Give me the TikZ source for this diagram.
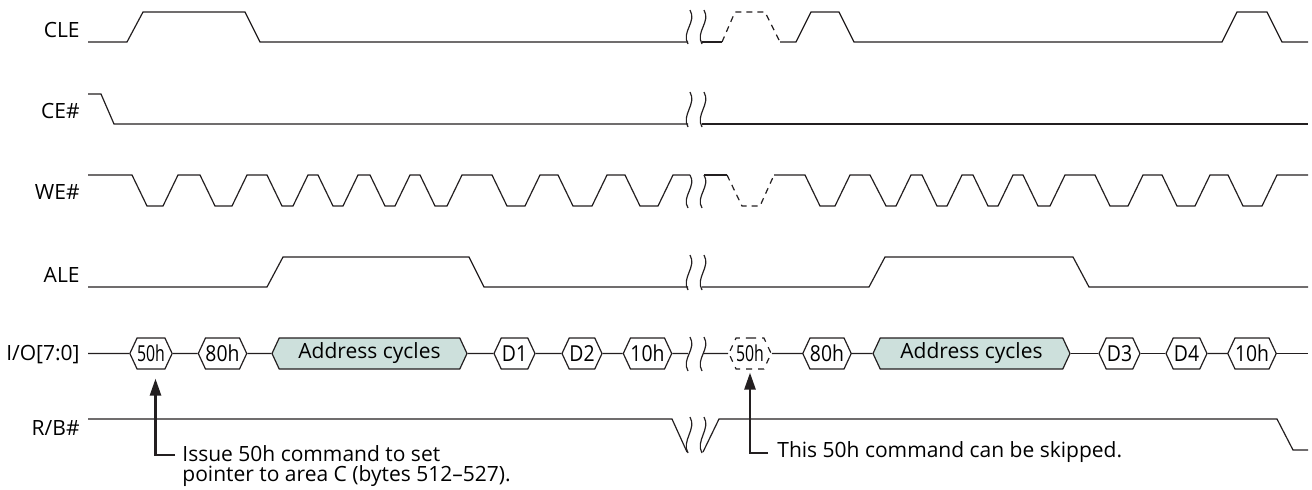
\documentclass[tikz,border=0pt]{standalone}
\usepackage{tikz, xcolor}
\usepackage{fontspec}
\setmainfont{Open Sans}
\newfontfamily\cellfont[FakeStretch=0.88]{Open Sans}
\newfontfamily\narrowfont[FakeStretch=0.72]{Open Sans}
\usetikzlibrary{shapes.symbols,arrows.meta}
\definecolor{addrfill}{RGB}{205,224,220}
\definecolor{wire}{RGB}{35,31,32}

\begin{document}
\begin{tikzpicture}[x=0.5pt, y=-0.5pt, font=\fontsize{10.5}{10}\selectfont]
\tikzstyle{sigline}=[draw=wire, line width=0.6pt]
\tikzstyle{skipline}=[sigline, dash pattern=on 3pt off 2.5pt]
\tikzstyle{breakline}=[draw=wire, line width=0.6pt]
\tikzstyle{sigcell}=[signal, signal to=east and west, signal pointer angle=130, draw=wire, line width=0.6pt, inner sep=0pt, minimum height=15.5pt, fill=white, font=\fontsize{11}{11}\cellfont]
\tikzstyle{addrcell}=[sigcell, fill=addrfill, font=\fontsize{10.5}{10.5}\selectfont]
\tikzstyle{siglabel}=[anchor=base east, inner sep=0pt]
\tikzstyle{notearrow}=[draw=wire, line width=1.3pt, -{Triangle[length=8.5pt,width=5.5pt]}]
\tikzstyle{notetext}=[anchor=base west, align=left, inner sep=0pt]

\useasboundingbox (0,0) rectangle (1312,489);

% signal names
\node[siglabel] (lCLE) at (80,37) {CLE};
\node[siglabel] (lCE) at (80,118) {CE\#};
\node[siglabel] (lWE) at (80,199) {WE\#};
\node[siglabel] (lALE) at (80,282) {ALE};
\node[siglabel] (lIO) at (80,360) {I/O[7:0]};
\node[siglabel] (lRB) at (80,435) {R/B\#};

% CLE
\draw[sigline] (88,42) -- (127,42) -- (143,12) -- (245,12) -- (260,42) -- (688,42);
\draw[breakline] (690,10) .. controls (697,22) and (681,32) .. (688,44);
\draw[breakline] (704,10) .. controls (711,22) and (695,32) .. (702,44);
\draw[sigline] (702,42) -- (722,42);
\draw[skipline] (722,42) -- (735,12) -- (765,12) -- (780,42);
\draw[sigline] (780,42) -- (796,42) -- (811,12) -- (839,12) -- (854,42) -- (1222,42) -- (1237,12) -- (1267,12) -- (1282,42) -- (1308,42);

% CE#
\draw[sigline] (88,94) -- (101,94) -- (114,124) -- (688,124);
\draw[breakline] (690,92) .. controls (697,104) and (681,115) .. (688,127);
\draw[breakline] (704,92) .. controls (711,104) and (695,115) .. (702,127);
\draw[sigline] (702,124) -- (1308,124);

% WE#
\draw[sigline] (88,175) -- (132,175) -- (147,206) -- (163,206) -- (178,175) -- (200,175) -- (215,206) -- (232,206) -- (247,175) -- (267,175) -- (282,206) -- (293,206) -- (308,175) -- (318,175) -- (333,206) -- (343,206) -- (358,175) -- (370,175) -- (385,206) -- (395,206) -- (410,175) -- (420,175) -- (435,206) -- (447,206) -- (462,175) -- (492,175) -- (507,206) -- (525,206) -- (540,175) -- (558,175) -- (573,206) -- (592,206) -- (607,175) -- (625,175) -- (640,206) -- (658,206) -- (673,175) -- (690,175);
\draw[breakline] (690,175) .. controls (697,186) and (681,197) .. (688,208);
\draw[breakline] (704,175) .. controls (711,186) and (695,197) .. (702,208);
\draw[sigline] (704,175) -- (727,175);
\draw[skipline] (727,175) -- (742,206) -- (760,206) -- (774,175);
\draw[sigline] (774,175) -- (805,175) -- (820,206) -- (835,206) -- (850,175) -- (870,175) -- (886,206) -- (896,206) -- (911,175) -- (922,175) -- (937,206) -- (947,206) -- (962,175) -- (973,175) -- (988,206) -- (998,206) -- (1013,175) -- (1023,175) -- (1038,206) -- (1050,206) -- (1065,175) -- (1095,175) -- (1110,206) -- (1128,206) -- (1143,175) -- (1162,175) -- (1177,206) -- (1195,206) -- (1210,175) -- (1228,175) -- (1243,206) -- (1262,206) -- (1277,175) -- (1308,175);

% ALE
\draw[sigline] (88,287) -- (267,287) -- (283,257) -- (469,257) -- (484,287) -- (688,287);
\draw[breakline] (690,255) .. controls (697,267) and (681,278) .. (688,290);
\draw[breakline] (704,255) .. controls (711,267) and (695,278) .. (702,290);
\draw[sigline] (702,287) -- (869,287) -- (885,257) -- (1073,257) -- (1089,287) -- (1308,287);

% I/O[7:0] bus cycles
\node[sigcell, minimum width=16pt, font=\fontsize{11}{11}\narrowfont] (IO50a) at (151,353.5) {50h};
\node[sigcell, minimum width=20.5pt] (IO80a) at (222.5,353.5) {80h};
\node[addrcell, minimum width=97.5pt] (ADDRa) at (369.5,353.5) {Address cycles};
\node[sigcell, minimum width=20.5pt] (D1) at (514.5,353.5) {D1};
\node[sigcell, minimum width=20pt] (D2) at (582,353.5) {D2};
\node[sigcell, minimum width=20.5pt] (IO10a) at (647.5,353.5) {10h};
\node[sigcell, dashed, minimum width=18pt, font=\fontsize{11}{11}\narrowfont] (IO50b) at (750,353.5) {50h};
\node[sigcell, minimum width=20pt] (IO80b) at (827,353.5) {80h};
\node[addrcell, minimum width=98.5pt] (ADDRb) at (971.5,353.5) {Address cycles};
\node[sigcell, minimum width=20.5pt] (D3) at (1119.5,353.5) {D3};
\node[sigcell, minimum width=20.5pt] (D4) at (1186.5,353.5) {D4};
\node[sigcell, minimum width=20pt] (IO10b) at (1252,353.5) {10h};
\coordinate (busL) at (88,353.5);
\coordinate (busA) at (688,353.5);
\coordinate (busB) at (703,353.5);
\coordinate (busR) at (1308,353.5);
\draw[sigline] (busL) -- (IO50a);
\draw[sigline] (IO50a) -- (IO80a);
\draw[sigline] (IO80a) -- (ADDRa);
\draw[sigline] (ADDRa) -- (D1);
\draw[sigline] (D1) -- (D2);
\draw[sigline] (D2) -- (IO10a);
\draw[sigline] (IO10a) -- (busA);
\draw[breakline] (690,337) .. controls (697,349) and (681,359) .. (688,371);
\draw[breakline] (704,337) .. controls (711,349) and (695,359) .. (702,371);
\draw[sigline] (busB) -- (IO50b);
\draw[sigline] (IO50b) -- (IO80b);
\draw[sigline] (IO80b) -- (ADDRb);
\draw[sigline] (ADDRb) -- (D3);
\draw[sigline] (D3) -- (D4);
\draw[sigline] (D4) -- (IO10b);
\draw[sigline] (IO10b) -- (busR);

% R/B#
\draw[sigline] (88,419) -- (672,419) -- (687,452);
\draw[breakline] (690,417) .. controls (697,429) and (681,441) .. (688,453);
\draw[breakline] (704,417) .. controls (711,429) and (695,441) .. (702,453);
\draw[sigline] (703,452) -- (719,419) -- (1277,419) -- (1293,450) -- (1308,450);

% notes
\coordinate (n1) at (175,455);
\draw[notearrow] (n1) -| ([xshift=2.25pt,yshift=-4.5pt]IO50a.south);
\node[notetext] (note1) at (182,481) {Issue 50h command to set\\pointer to area C (bytes 512–527).};
\coordinate (n2) at (768,453);
\draw[notearrow] (n2) -| ([yshift=-1.5pt]IO50b.south);
\node[notetext] (note2) at (777,457) {This 50h command can be skipped.};
\end{tikzpicture}
\end{document}
